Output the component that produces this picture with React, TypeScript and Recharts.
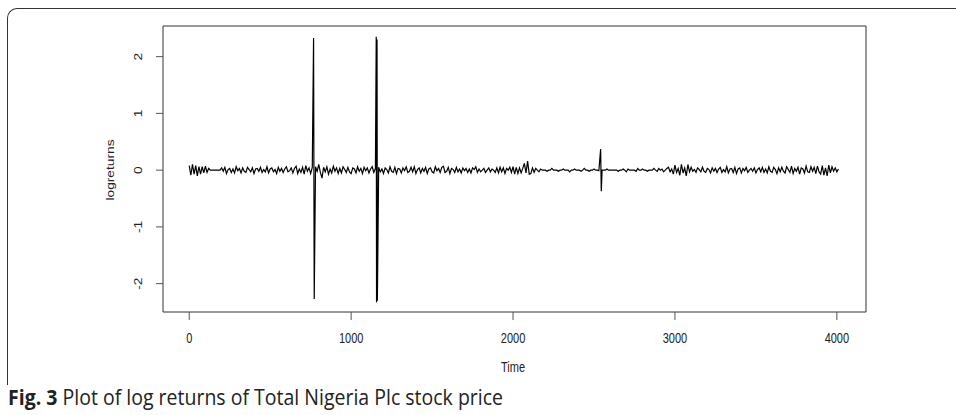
import { LineChart, Line, XAxis, YAxis, ReferenceArea } from 'recharts'

// log returns in blocks; step is 10 time units inside a block
// block A: t = 0..760
const returnsA = [
  0.08, -0.09, 0.1, -0.07, 0.08, -0.1, 0.06, -0.07, 0.06, -0.05, 0.07, -0.04, 0.03,
  0, 0, 0, 0, 0, 0, 0,
  0.04, -0.02, 0.05, -0.06, 0.01, 0.03, -0.04, 0.02, -0.05, 0.06,
  -0.01, 0.03, -0.05, 0.04, -0.02, -0.04, 0.05, 0.01, -0.03, 0.04,
  -0.06, 0.02, 0.03, -0.02, 0.05, -0.04, 0.01, -0.03, 0.06, -0.05,
  0.02, 0.04, -0.03, 0.01, -0.06, 0.05, -0.02, 0.03, -0.04, 0.02,
  0.06, -0.03, -0.01, 0.04, -0.05, 0.03, 0.07, -0.06, 0.02, -0.04,
  0.05, -0.07, 0.08, -0.02, 0.04, -0.06, 0.05,
]
// block B: t = 780..1150
const returnsB = [
  0.06, -0.02, 0.1, -0.04, -0.14, 0.05, -0.03, 0.06, -0.07, 0.02,
  -0.05, 0.07, -0.02, 0.04, -0.06, 0.03, -0.05, 0.06, 0.01, -0.04,
  0.05, -0.03, -0.06, 0.04, 0.02, -0.05, 0.06, -0.02, 0.03, -0.06,
  0.05, -0.01, 0.04, -0.05, 0.02, 0.06, -0.04, 0.03,
]
// block C: t = 1170..2530
const returnsC = [
  0.05, -0.03, 0.02, -0.06, 0.04, 0.01, -0.05, 0.06, -0.02, -0.04,
  0.05, -0.06, 0.03, 0.02, -0.05, 0.04, -0.01, 0.06, -0.04, -0.02,
  0.05, -0.03, 0.06, -0.06, 0.01, 0.04, -0.05, 0.03, -0.02, 0.05,
  -0.06, 0.02, 0.04, -0.03, -0.05, 0.06, -0.01, 0.03, -0.04, 0.05,
  0.07, -0.04, -0.02, 0.05, -0.06, 0.03, 0.01, -0.04, 0.05, -0.03,
  0.02, -0.05, 0.04, -0.01, 0.03, -0.04, 0.02, -0.05, 0.04, 0.01,
  0.06, -0.04, 0.02, -0.03,
  0, 0.03, -0.04, 0, 0.04, -0.03, 0.02, 0, -0.04, 0.04,
  -0.05, 0.05, -0.03, 0.04, -0.06, 0.03, 0, 0.05, -0.04, 0.06,
  -0.07, 0.05, -0.06, 0.04, -0.05, 0.03, 0.12, -0.05, 0.16, -0.07,
  -0.06, 0.04, -0.04, 0.03, 0, -0.03, 0.02, 0,
  0, 0, -0.02, 0, 0, 0.03, 0, 0, 0, -0.02,
  0, 0, 0.02, 0, 0, 0, -0.03, 0, 0, 0.02,
  0, 0, 0, -0.02, 0, 0.03, 0, 0, -0.02, 0,
  0, 0.02, 0, 0, -0.01,
]
// block D: t = 2550..4010
const returnsD = [
  0, 0, 0, 0.02, 0, 0, 0, 0, 0, 0,
  -0.02, 0, 0, 0.02, 0, -0.03, 0.02, 0, 0, 0,
  0, -0.02, 0.03, 0, 0, 0.02, 0, 0, -0.02, 0,
  0, 0, 0.03, 0, -0.02, 0.03, 0, 0.02, -0.03, 0,
  0.03,
  0.05, -0.03, 0.02, -0.07, 0.09, -0.04, 0.03, -0.09, 0.1, -0.05,
  0.04, -0.1, 0.1, -0.03, 0.05, -0.02, 0.01, -0.04, 0.04, 0.01,
  -0.03, 0.05, -0.02, -0.04, 0.03, 0.01, -0.05, 0.04, -0.02, 0.03,
  -0.04, 0.02, 0.05, -0.04, 0.01, -0.03, 0.06, -0.05, 0.02, 0.03,
  -0.04, 0.05, -0.06, 0.02, 0.04, -0.05, 0.03, -0.01, 0.05, -0.04,
  0, 0.03, -0.02, 0.04, -0.05, 0.01, 0.04, -0.03, 0.05, -0.04,
  0.02, -0.05, 0.06, -0.02, -0.04, 0.05, 0.01, -0.06, 0.04, -0.03,
  0.05, -0.02, -0.05, 0.06, 0.01, -0.04, 0.07, -0.06, 0.03, -0.02,
  0.05, -0.07, 0.04, 0.02, -0.05, 0.07, -0.03, -0.04, 0.06, -0.02,
  0.05, -0.06, 0.07, -0.03, -0.07, 0.08, -0.09, 0.04, -0.1, 0.09,
  -0.05, 0.06, -0.02, 0.04, -0.03, 0.02,
]

// the three big jumps (time, value)
const spike1Time = [768, 772]
const spike1Value = [2.33, -2.27]
const spike2Time = [1155, 1157, 1160, 1162]
const spike2Value = [2.35, -2.33, 2.3, -2.3]
const spike3Time = [2541, 2545]
const spike3Value = [0.37, -0.37]

const xTicks = [0, 1000, 2000, 3000, 4000]
const yTicks = [-2, -1, 0, 1, 2]

type Row = { t: number; r: number }

const block = (start: number, vals: number[]): Row[] => vals.map((v, i) => ({ t: start + i * 10, r: v }))
const pairs = (ts: number[], vs: number[]): Row[] => ts.map((t, i) => ({ t, r: vs[i] }))

const data: Row[] = [
  ...block(0, returnsA),
  ...pairs(spike1Time, spike1Value),
  ...block(780, returnsB),
  ...pairs(spike2Time, spike2Value),
  ...block(1170, returnsC),
  ...pairs(spike3Time, spike3Value),
  ...block(2550, returnsD),
]

const axisFont = '"Liberation Sans", Arial, sans-serif'

// R style labels; the source image is a bit stretched vertically, so glyphs get scaled
function XTick({ x, payload }: any) {
  return (
    <text transform={`translate(${x},343) scale(1,1.25)`} textAnchor="middle" fontSize={11} fontFamily={axisFont} fill="#222">
      {payload.value}
    </text>
  )
}

function YTick({ y, payload }: any) {
  return (
    <text transform={`translate(141.5,${y}) rotate(-90) scale(1.25,1)`} textAnchor="middle" fontSize={11} fontFamily={axisFont} fill="#222">
      {payload.value}
    </text>
  )
}

export default function App() {
  return (
    <div style={{ position: 'fixed', left: 0, top: 0, width: 956, height: 415, background: '#fff', overflow: 'hidden' }}>
      {/* figure frame, only top + left edges visible */}
      <div
        style={{
          position: 'absolute', left: 7, top: 8, width: 980, height: 376,
          borderTop: '1.5px solid #333', borderLeft: '1.5px solid #333', borderTopLeftRadius: 10,
        }}
      />
      <div style={{ position: 'absolute', left: 0, top: 0 }}>
        <LineChart width={956} height={415} data={data} margin={{ top: 26, right: 90, bottom: 0, left: 0 }}>
          <XAxis
            dataKey="t"
            type="number"
            domain={[-162, 4180]}
            ticks={xTicks}
            height={103}
            tickSize={8}
            axisLine={false}
            tickLine={{ stroke: '#555' }}
            tick={<XTick />}
            allowDataOverflow
          />
          <YAxis
            type="number"
            domain={[-2.5, 2.54]}
            ticks={yTicks}
            width={163}
            tickSize={7}
            axisLine={false}
            tickLine={{ stroke: '#555' }}
            tick={<YTick />}
            allowDataOverflow
          />
          <ReferenceArea x1={-162} x2={4180} y1={-2.5} y2={2.54} fill="none" stroke="#333" strokeWidth={1} ifOverflow="visible" />
          <Line type="linear" dataKey="r" stroke="#000" strokeWidth={1.2} dot={false} isAnimationActive={false} />
          <text transform="translate(114,170) rotate(-90) scale(1.25,1)" textAnchor="middle" fontSize={11} fontFamily={axisFont} fill="#222">
            logreturns
          </text>
          <text transform="translate(513,372) scale(1,1.25)" textAnchor="middle" fontSize={11} fontFamily={axisFont} fill="#222">
            Time
          </text>
        </LineChart>
      </div>
      <div
        style={{
          position: 'absolute', left: 8, top: 387, fontFamily: '"Open Sans", sans-serif', fontSize: 19.5,
          lineHeight: 1, color: '#222', whiteSpace: 'nowrap', transform: 'scaleY(1.08)', transformOrigin: 'left top',
        }}
      >
        <b>Fig. 3</b> Plot of log returns of Total Nigeria Plc stock price
      </div>
    </div>
  )
}
